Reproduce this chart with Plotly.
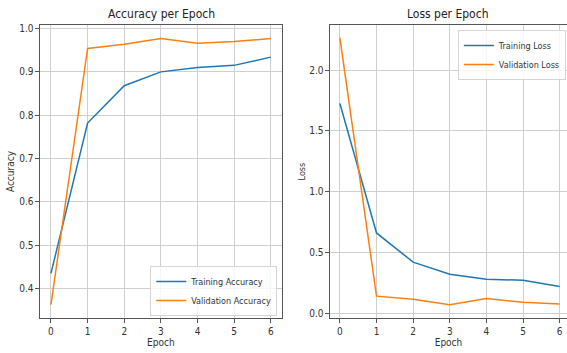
import plotly.graph_objects as go

epochs = [0, 1, 2, 3, 4, 5, 6]
train_acc = [0.435, 0.782, 0.868, 0.900, 0.910, 0.915, 0.934]
val_acc = [0.363, 0.954, 0.964, 0.977, 0.966, 0.970, 0.977]
train_loss = [1.725, 0.66, 0.42, 0.32, 0.28, 0.27, 0.22]
val_loss = [2.265, 0.14, 0.115, 0.07, 0.12, 0.09, 0.075]

BLUE = "#1f77b4"
ORANGE = "#ff7f0e"
FONT = "DejaVu Sans Condensed, DejaVu Sans"
TXT = "#333333"

fig = go.Figure()
fig.add_trace(go.Scatter(x=epochs, y=train_acc, mode="lines", name="Training Accuracy",
                         line=dict(color=BLUE, width=1.5), xaxis="x", yaxis="y", legend="legend"))
fig.add_trace(go.Scatter(x=epochs, y=val_acc, mode="lines", name="Validation Accuracy",
                         line=dict(color=ORANGE, width=1.5), xaxis="x", yaxis="y", legend="legend"))
fig.add_trace(go.Scatter(x=epochs, y=train_loss, mode="lines", name="Training Loss",
                         line=dict(color=BLUE, width=1.5), xaxis="x2", yaxis="y2", legend="legend2"))
fig.add_trace(go.Scatter(x=epochs, y=val_loss, mode="lines", name="Validation Loss",
                         line=dict(color=ORANGE, width=1.5), xaxis="x2", yaxis="y2", legend="legend2"))

ax_common = dict(showline=True, linecolor="#555555", linewidth=1, mirror=True,
                 showgrid=True, gridcolor="#cfcfcf", gridwidth=1,
                 ticks="outside", ticklen=3.5, tickcolor="#555555", tickwidth=1,
                 tickfont=dict(family=FONT, size=10, color=TXT), zeroline=False,
                 automargin=False)

fig.update_layout(
    width=567, height=353,
    margin=dict(l=0, r=0, t=0, b=0, autoexpand=False),
    paper_bgcolor="white", plot_bgcolor="white",
    font=dict(family=FONT, size=10, color=TXT),
    xaxis=dict(domain=[0.0705, 0.497], range=[-0.3, 6.3], tickvals=epochs, anchor="y",
               title=dict(text="Epoch", standoff=3, font=dict(size=10)), **ax_common),
    yaxis=dict(domain=[0.099, 0.929], range=[0.332, 1.008], anchor="x",
               tickvals=[0.4, 0.5, 0.6, 0.7, 0.8, 0.9, 1.0], tickformat=".1f",
               title=dict(text="Accuracy", standoff=2, font=dict(size=10)), **ax_common),
    xaxis2=dict(domain=[0.582, 1.0], range=[-0.27, 6.2], tickvals=epochs, anchor="y2",
                title=dict(text="Epoch", standoff=3, font=dict(size=10)), **ax_common),
    yaxis2=dict(domain=[0.099, 0.929], range=[-0.04, 2.37], anchor="x2",
                tickvals=[0.0, 0.5, 1.0, 1.5, 2.0], tickformat=".1f",
                title=dict(text="Loss", standoff=2, font=dict(size=9)), **ax_common),
    legend=dict(x=0.489, y=0.105, xanchor="right", yanchor="bottom",
                bgcolor="rgba(255,255,255,0.8)", bordercolor="#d5d5d5", borderwidth=1,
                font=dict(family=FONT, size=9, color=TXT), tracegroupgap=0),
    legend2=dict(x=0.998, y=0.915, xanchor="right", yanchor="top",
                 bgcolor="rgba(255,255,255,0.8)", bordercolor="#d5d5d5", borderwidth=1,
                 font=dict(family=FONT, size=9, color=TXT), tracegroupgap=0),
    annotations=[
        dict(text="Accuracy per Epoch", x=0.284, y=0.935, xref="paper", yref="paper",
             xanchor="center", yanchor="bottom", showarrow=False,
             font=dict(family=FONT, size=12, color="#222222")),
        dict(text="Loss per Epoch", x=0.791, y=0.935, xref="paper", yref="paper",
             xanchor="center", yanchor="bottom", showarrow=False,
             font=dict(family=FONT, size=12, color="#222222")),
    ],
    showlegend=True,
)

fig.write_html("out.html", config={"displayModeBar": False},
               post_script="document.body.style.margin='0';document.body.style.overflow='hidden';")
